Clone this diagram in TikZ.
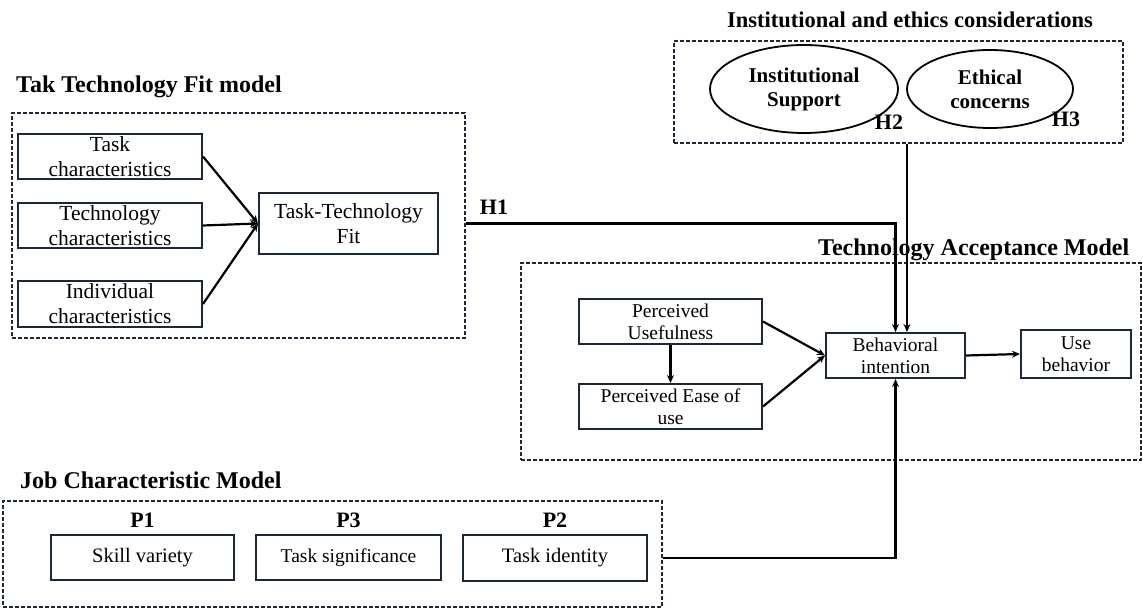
\documentclass[tikz,border=0pt]{standalone}
\usepackage{fontspec}
\setmainfont{Liberation Serif}
\usetikzlibrary{arrows.meta,shapes.geometric,positioning}
\definecolor{boxline}{HTML}{1B2838}

\begin{document}
\begin{tikzpicture}[x=1pt,y=-1pt,
    box/.style={draw=boxline,line width=2pt,inner sep=0pt,align=center},
    frame/.style={draw=boxline,line width=1.5pt,dash pattern=on 4pt off 2pt,inner sep=0pt},
    oval/.style={ellipse,draw=black,line width=1.8pt,inner sep=0pt,align=center,font=\fontsize{21}{24}\selectfont\bfseries},
    ttfbox/.style={box,font=\fontsize{21.5}{25}\selectfont},
    tambox/.style={box,font=\fontsize{19.5}{22}\selectfont},
    bibox/.style={box,font=\fontsize{19.5}{22}\selectfont},
    jcmbox/.style={box,font=\fontsize{20.5}{24}\selectfont,minimum width=184pt,minimum height=45pt},
    title/.style={font=\fontsize{24}{28}\selectfont\bfseries,inner sep=0pt},
    hyp/.style={font=\fontsize{22}{26}\selectfont\bfseries,inner sep=0pt},
    plabel/.style={font=\fontsize{22}{26}\selectfont\bfseries,inner sep=0pt},
    arr/.style={line width=2.2pt,-{Stealth[length=8pt,width=7pt]}}]
                \useasboundingbox (0,0) rectangle (1143,612);

                % Task Technology Fit
                \node[title,anchor=west] (ttftitle) at (16,87) {Tak Technology Fit model};
                \node[frame,minimum width=453pt,minimum height=225pt] (ttfframe) at (238.5,225.5) {};
                \node[ttfbox,minimum width=184pt,minimum height=45pt] (taskc) at (110,156.5) {Task\\characteristics};
                \node[ttfbox,minimum width=184pt,minimum height=45pt] (techc) at (110,225.5) {Technology\\characteristics};
                \node[ttfbox,minimum width=184pt,minimum height=46pt] (indc) at (110,304) {Individual\\characteristics};
                \node[ttfbox,minimum width=179pt,minimum height=61pt] (ttf) at (348.5,223.5) {Task-Technology\\Fit};
                \foreach \src in {taskc,techc,indc} {
                    \draw[arr] (\src.east) -- (ttf.west);
                }

                % Institutional and ethics considerations
                \node[title,font=\fontsize{22.5}{27}\selectfont\bfseries] (iectitle) at (910,20) {Institutional and ethics considerations};
                \node[frame,minimum width=449pt,minimum height=102pt] (iecframe) at (898.5,92) {};
                \node[oval,minimum width=188pt,minimum height=88pt] (inst) at (804,89) {Institutional\\Support};
                \node[oval,minimum width=166pt,minimum height=78pt] (eth) at (990,89) {Ethical\\concerns};
                \node[hyp] (h2) at (889,122) {H2};
                \node[hyp] (h3) at (1066,119) {H3};

                % Technology Acceptance Model
                \node[title,anchor=west] (tamtitle) at (818,250) {Technology Acceptance Model};
                \node[frame,minimum width=620pt,minimum height=197pt] (tamframe) at (831,361.5) {};
                \node[tambox,minimum width=183pt,minimum height=45pt] (pu) at (670.5,321.5) {Perceived\\Usefulness};
                \node[tambox,minimum width=183pt,minimum height=45pt] (peu) at (670.5,406.5) {Perceived Ease of\\use};
                \node[bibox,minimum width=139pt,minimum height=45pt] (bi) at (895.5,355.5) {Behavioral\\intention};
                \node[bibox,minimum width=110pt,minimum height=48pt] (ub) at (1076,354) {Use\\behavior};
                \draw[arr] (pu.south) -- (peu.north);
                \draw[arr] (pu.east) -- (bi.west);
                \draw[arr] (peu.east) -- (bi.west);
                \draw[arr] (bi.east) -- (ub.west);

                % Job Characteristic Model
                \node[title,anchor=west] (jcmtitle) at (20,480) {Job Characteristic Model};
                \node[frame,minimum width=659pt,minimum height=106pt] (jcmframe) at (332.5,554) {};
                \node[jcmbox,minimum width=183pt] (skill) at (142.5,557.5) {Skill variety};
                \node[jcmbox,minimum width=185pt,font=\fontsize{19.5}{24}\selectfont] (tsig) at (348.5,557.5) {Task significance};
                \node[jcmbox,minimum height=46pt] (tid) at (555,558) {Task identity};
                \node[plabel] (p1) at (142.5,520) {P1};
                \node[plabel] (p3) at (348.5,520) {P3};
                \node[plabel] (p2) at (555,520) {P2};

                % hypotheses links
                \node[hyp] (h1) at (494,207) {H1};
                \draw[arr] (ttfframe.east |- ttf.east) -| (bi.north);
                \draw[arr] ([xshift=8.5pt]iecframe.south) -- ([xshift=11.5pt]bi.north);
                \draw[arr] (jcmframe.east |- tid.east) -| (bi.south);
\end{tikzpicture}
\end{document}
